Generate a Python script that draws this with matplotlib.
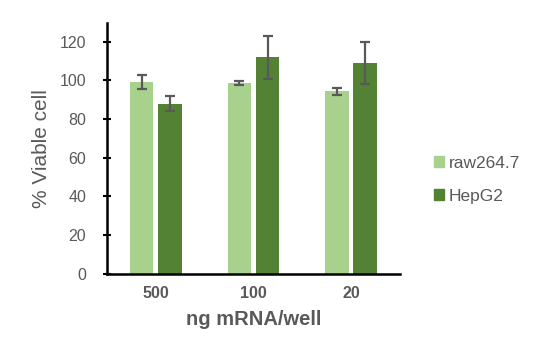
import numpy as np
import matplotlib
matplotlib.use('Agg')
import matplotlib.pyplot as plt
from matplotlib.patches import Patch

plt.rcParams['font.family'] = ['Liberation Sans', 'DejaVu Sans']

# 数据
categories = ['500', '100', '20']
series_names = ['raw264.7', 'HepG2']
raw_vals = [99.0, 98.4, 94.3]
raw_err = [3.7, 1.1, 1.9]
hep_vals = [87.9, 111.8, 108.9]
hep_err = [3.9, 11.2, 10.7]
colors = ['#A9D18E', '#548235']
txt = '#595959'

fig = plt.figure(figsize=(5.41, 3.62), dpi=100)
ax = fig.add_axes([0.198, 0.244, 0.541, 0.692])

x = np.arange(len(categories))
w = 0.24
off = 0.145
ax.bar(x - off, raw_vals, w, color=colors[0], yerr=raw_err,
       error_kw=dict(ecolor=txt, elinewidth=1.6, capsize=3.8, capthick=1.6))
ax.bar(x + off, hep_vals, w, color=colors[1], yerr=hep_err,
       error_kw=dict(ecolor=txt, elinewidth=1.6, capsize=3.8, capthick=1.6))

ax.set_xlim(-0.5, 2.5)
ax.set_ylim(0, 129.5)
ax.set_yticks(range(0, 121, 20))
ax.set_xticks(x)
ax.set_xticklabels(categories, fontweight='bold', fontsize=11.5, color=txt)
ax.tick_params(axis='x', length=0, pad=9)
ax.tick_params(axis='y', direction='inout', length=6, width=1.5, labelsize=11.5,
               labelcolor=txt, pad=12)

for s in ['top', 'right']:
    ax.spines[s].set_visible(False)
for s in ['left', 'bottom']:
    ax.spines[s].set_linewidth(1.8)
    ax.spines[s].set_color('black')

ax.set_ylabel('% Viable cell', fontsize=15, color=txt, labelpad=6)
ax.set_xlabel('ng mRNA/well', fontsize=14.5, color=txt, fontweight='bold', labelpad=6)

handles = [Patch(color=c) for c in colors]
fig.legend(handles, series_names, loc='center left', bbox_to_anchor=(0.802, 0.503),
           frameon=False, fontsize=12.5, labelcolor=txt, handlelength=0.6,
           handleheight=0.6, handletextpad=0.25, labelspacing=1.05, borderpad=0,
           borderaxespad=0)

fig.savefig('out.png', dpi=100)
